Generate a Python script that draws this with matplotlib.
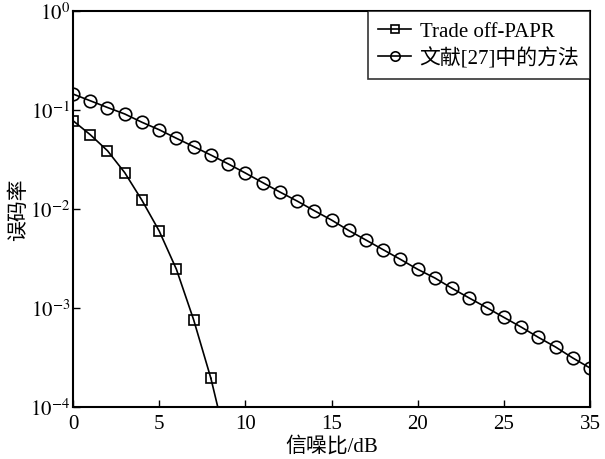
import matplotlib
matplotlib.use('Agg')
import matplotlib.pyplot as plt
import numpy as np

plt.rcParams['font.family'] = ['Liberation Serif', 'Noto Sans CJK SC']
plt.rcParams['mathtext.fontset'] = 'stix'

# BER vs SNR
snr_papr = [0, 1, 2, 3, 4, 5, 6, 7, 8]
ber_papr = [0.078, 0.0563, 0.0388, 0.0233, 0.01225, 0.0060, 0.00246, 7.6e-4, 1.95e-4]
# where the fitted curve leaves the bottom of the plot
papr_end_snr = 8.4
papr_end_ber = 1e-4

snr_ref = list(range(0, 31))
ber_ref = [0.145, 0.124, 0.106, 0.0912, 0.0752, 0.0632, 0.0518, 0.0427, 0.0351, 0.0286,
           0.0231, 0.0185, 0.01486, 0.01205, 0.00962, 0.00774, 0.00607, 0.00486, 0.00388, 0.00310,
           0.00246, 0.00201, 0.00158, 0.00126, 0.00101, 8.05e-4, 6.43e-4, 5.06e-4, 4.04e-4, 3.13e-4,
           2.48e-4]

xtick_pos = [0, 5, 10, 15, 20, 25, 30]
xtick_labels = ['0', '5', '10', '15', '20', '25', '35']
ytick_pos = [1e-4, 1e-3, 1e-2, 1e-1, 1e0]

fig = plt.figure(figsize=(6.05, 4.6), dpi=100)
ax = fig.add_axes([0.1207, 0.113, 0.8545, 0.8609])

ax.plot(snr_papr, ber_papr, 'k-', marker='s', markersize=7.5, mfc='none', mec='k',
        mew=1.2, lw=1.2, label='Trade off-PAPR')
ax.plot([snr_papr[-1], papr_end_snr], [ber_papr[-1], papr_end_ber], 'k-', lw=1.2)
ax.plot(snr_ref, ber_ref, 'k-', marker='o', markersize=9, mfc='none', mec='k',
        mew=1.2, lw=1.2, label='文献[27]中的方法')

ax.set_yscale('log')
ax.set_xlim(0, 30)
ax.set_ylim(1e-4, 1e0)
ax.set_xticks(xtick_pos)
ax.set_xticklabels(xtick_labels)
ax.set_yticks(ytick_pos)
ax.set_yticklabels([r'$10^{%d}$' % int(np.log10(v)) for v in ytick_pos])
ax.minorticks_off()
ax.tick_params(direction='in', length=5, width=1, labelsize=15, top=False, right=False)
ax.tick_params(axis='x', pad=5)
ax.tick_params(axis='y', pad=2)
for s in ax.spines.values():
    s.set_linewidth(1.5)

ax.set_xlabel('信噪比/dB', fontsize=15, labelpad=2)
ax.set_ylabel('误码率', fontsize=15, labelpad=1)

leg = ax.legend(loc='upper right', fontsize=15, fancybox=False, edgecolor='k',
                borderaxespad=0, handlelength=1.6, handletextpad=0.4,
                labelspacing=0.3, borderpad=0.5, markerscale=0.75)
leg.get_frame().set_linewidth(1.2)

fig.savefig('out.png', dpi=100)
